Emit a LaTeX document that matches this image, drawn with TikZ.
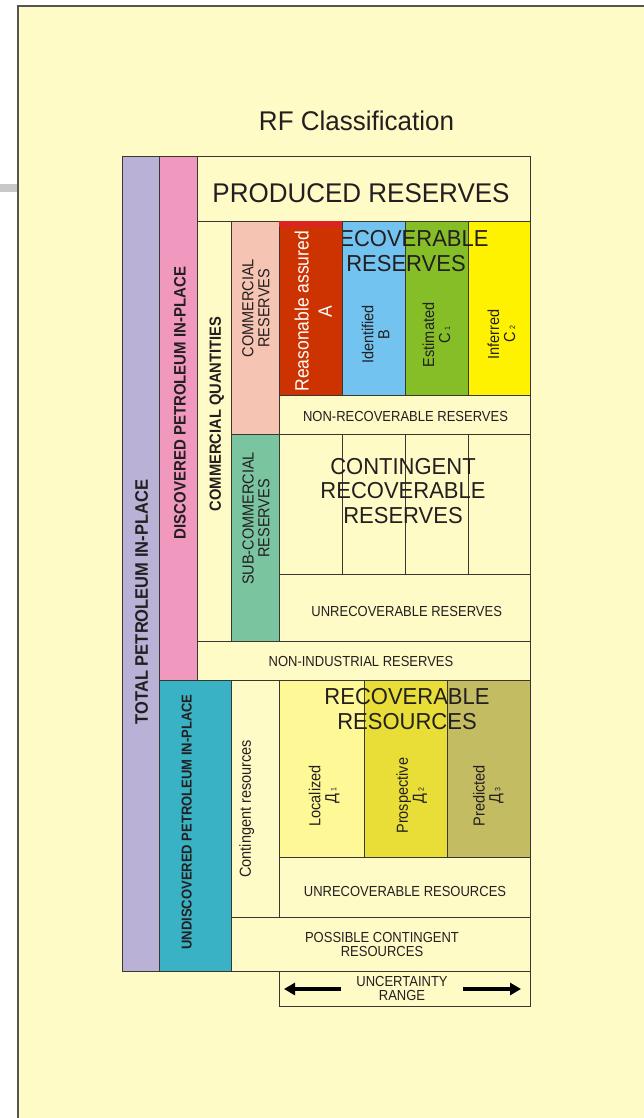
\documentclass[tikz,border=0pt]{standalone}
\usepackage{fontspec}
\setmainfont{Liberation Sans}
\usetikzlibrary{arrows.meta}
\tikzset {>={Triangle[length=11pt,width=12pt]}}
\definecolor{paper}{RGB}{255,251,199}
\definecolor{edge}{RGB}{58,55,50}
\definecolor{ink}{RGB}{35,31,32}
\definecolor{lilac}{RGB}{186,178,214}
\definecolor{rose}{RGB}{240,152,190}
\definecolor{peach}{RGB}{245,196,178}
\definecolor{brick}{RGB}{204,51,0}
\definecolor{scarlet}{RGB}{220,35,35}
\definecolor{sky}{RGB}{115,195,240}
\definecolor{leaf}{RGB}{133,190,38}
\definecolor{lemon}{RGB}{255,242,0}
\definecolor{mint}{RGB}{122,196,160}
\definecolor{sea}{RGB}{56,178,196}
\definecolor{pale}{RGB}{255,248,150}
\definecolor{mustard}{RGB}{232,222,55}
\definecolor{khaki}{RGB}{195,188,98}
\definecolor{bar}{RGB}{200,200,200}
\newcommand\subidx[1]{\,{\fontsize{7}{7}\selectfont#1}}
\tikzset{
  cell/.style={draw=edge,line width=.8pt},
  title/.style={font=\fontsize{26}{30}\selectfont,yscale=1.04},
  big/.style={font=\fontsize{22}{23.4}\selectfont,align=center,yscale=1.05},
  lab/.style={font=\fontsize{13}{12.5}\selectfont,align=center,yscale=1.12},
  vlab/.style={font=\fontsize{14.5}{14.5}\selectfont,align=center,rotate=90,yscale=1.1},
  vhead/.style={font=\bfseries\fontsize{#1}{#1}\selectfont,rotate=90,yscale=1.1},
  rng/.style={line width=3.5pt,->},
}

\begin{document}
\begin{tikzpicture}[x=1pt,y=-1pt,text=ink]
\useasboundingbox (0,0) rectangle (644,1118);
\fill[paper] (18,6) rectangle (644,1118);
\fill[bar] (0,184) rectangle (18,192);
\draw[edge!85,line width=1.4pt] (18,1118) |- (644,6);
\node[title] (rf) at (356.5,121) {RF Classification};

\draw[cell,fill=lilac] (122,156) rectangle (159,971);
\draw[cell,fill=rose] (159,156) rectangle (197,680);
\draw[cell,fill=paper] (197,156) rectangle (530,221);
\draw[cell,fill=paper] (197,221) rectangle (231,641);
\draw[cell,fill=peach] (231,221) rectangle (279,434);
\draw[cell,fill=sky] (342,221) rectangle (405,395);
\draw[cell,fill=leaf] (405,221) rectangle (468,395);
\draw[cell,fill=lemon] (468,221) rectangle (530,395);
\node[big] (rr) at (406,251) {RECOVERABLE\\RESERVES};
\draw[cell,fill=brick] (279,221) rectangle (342,395);
\fill[scarlet] (279.4,221.4) rectangle (341.6,227);
\draw[cell,fill=paper] (279,395) rectangle (530,434);
\draw[cell,fill=mint] (231,434) rectangle (279,641);
\draw[cell,fill=paper] (279,434) rectangle (530,574);
\foreach \x in {342,405,468} \draw[cell] (\x,434) -- (\x,574);
\draw[cell,fill=paper] (279,574) rectangle (530,641);
\draw[cell,fill=paper] (197,641) rectangle (530,680);
\draw[cell,fill=sea] (159,680) rectangle (231,971);
\draw[cell,fill=paper] (231,680) rectangle (279,917);
\draw[cell,fill=pale] (279,680) rectangle (364,857);
\draw[cell,fill=mustard] (364,680) rectangle (447,857);
\draw[cell,fill=khaki] (447,680) rectangle (530,857);
\draw[cell,fill=paper] (279,857) rectangle (530,917);
\draw[cell,fill=paper] (231,917) rectangle (530,971);
\draw[cell,fill=paper] (279,971) rectangle (530,1006);

\node[title] (prod) at (361,193) {PRODUCED RESERVES};
\node[vhead=16.5] (tot) at (141.7,602) {TOTAL PETROLEUM IN-PLACE};
\node[vhead=15] (disc) at (180,403) {DISCOVERED PETROLEUM IN-PLACE};
\node[vhead=14.7] (cq) at (216.7,414) {COMMERCIAL QUANTITIES};
\node[vhead=13] (undisc) at (186.7,822) {UNDISCOVERED PETROLEUM IN-PLACE};
\node[vlab] (cr) at (255.8,308.3) {COMMERCIAL\\RESERVES};
\node[vlab] (scr) at (256,518.4) {SUB-COMMERCIAL\\RESERVES};
\node[vlab,text=white,font=\fontsize{17.5}{21.3}\selectfont] (ra)
  at (313.3,311.2) {Reasonable assured\\A};
\node[vlab] (idf) at (375.5,334.5) {Identified\\B};
\node[vlab] (est) at (436.5,335) {Estimated\\C\subidx{1}};
\node[vlab] (inf) at (501.5,334.3) {Inferred\\C\subidx{2}};
\node[lab] (nrr) at (405.5,416.7) {NON-RECOVERABLE RESERVES};
\node[big] (crr) at (403,490.8) {CONTINGENT\\RECOVERABLE\\RESERVES};
\node[big,font=\fontsize{22}{24.1}\selectfont] (rres) at (407,708.8)
  {RECOVERABLE\\RESOURCES};
\node[lab] (urr) at (406.7,611) {UNRECOVERABLE RESERVES};
\node[lab] (nir) at (361,661.7) {NON-INDUSTRIAL RESERVES};
\node[vlab] (cres) at (246.7,808.8) {Contingent resources};
\node[vlab] (loc) at (324.2,795.8) {Localized\\Д\subidx{1}};
\node[vlab] (pro) at (411.7,795.7) {Prospective\\Д\subidx{2}};
\node[vlab] (pre) at (488.3,795.8) {Predicted\\Д\subidx{3}};
\node[lab] (ures) at (405,891) {UNRECOVERABLE RESOURCES};
\node[lab] (pcr) at (382,944.2) {POSSIBLE CONTINGENT\\RESOURCES};
\node[lab,inner xsep=15pt] (unc) at (402,988.9) {UNCERTAINTY\\RANGE};
\coordinate (ul) at (284,989);
\coordinate (ur) at (521,989);
\draw[rng] (unc.west |- ul) -- (ul);
\draw[rng] (unc.east |- ur) -- (ur);
\end{tikzpicture}
\end{document}
